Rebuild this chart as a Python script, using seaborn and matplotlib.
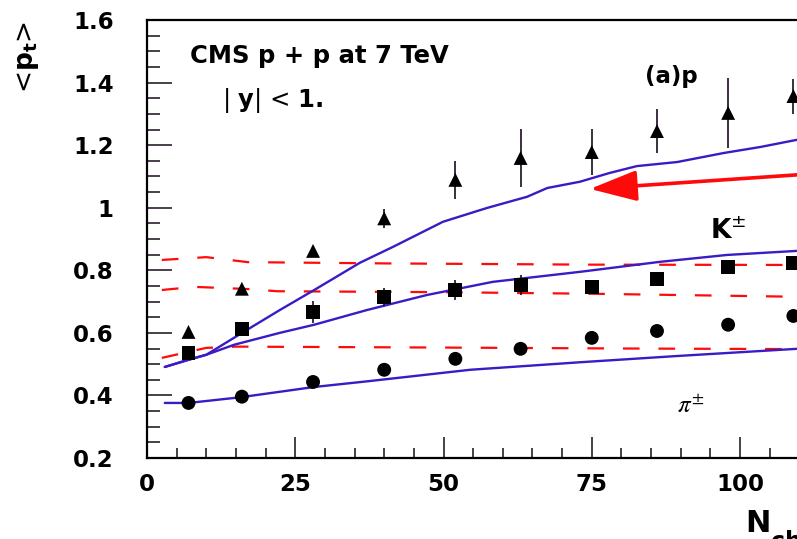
import numpy as np
import pandas as pd
import matplotlib
matplotlib.use("Agg")
import matplotlib.pyplot as plt
import seaborn as sns
from matplotlib.ticker import MultipleLocator

# ---- measured mean transverse momentum vs charged multiplicity ----
nch = [7, 16, 28, 40, 52, 63, 75, 86, 98, 109]
pt_proton = [0.603, 0.741, 0.862, 0.966, 1.089, 1.159, 1.178, 1.245, 1.303, 1.357]
err_proton = [0.0, 0.0, 0.0, 0.03, 0.06, 0.093, 0.073, 0.07, 0.112, 0.056]
pt_kaon = [0.536, 0.613, 0.667, 0.715, 0.737, 0.753, 0.747, 0.772, 0.811, 0.824]
err_kaon = [0.0, 0.0, 0.034, 0.029, 0.032, 0.032, 0.0, 0.0, 0.0, 0.0]
pt_pion = [0.376, 0.396, 0.443, 0.482, 0.517, 0.549, 0.584, 0.606, 0.626, 0.654]

# ---- model curves (solid) ----
model_p_x = [3, 7, 10, 16.9, 22.4, 28.2, 35.9, 41.5, 49.9, 57.3, 64.1, 67.5, 73, 78, 82.6, 89.4, 97.3, 103.4, 109.6, 111]
model_p_y = [0.491, 0.514, 0.53, 0.61, 0.673, 0.737, 0.824, 0.875, 0.955, 0.999, 1.035, 1.063, 1.083, 1.111, 1.133, 1.146, 1.175, 1.194, 1.217, 1.222]
model_k_x = [3, 7, 10, 14.7, 22.4, 28.2, 37.1, 47.2, 58.3, 73, 86.5, 97.8, 109.6, 111]
model_k_y = [0.491, 0.514, 0.53, 0.562, 0.6, 0.626, 0.673, 0.721, 0.763, 0.795, 0.827, 0.849, 0.862, 0.864]
model_pi_x = [3, 7, 15.7, 28.2, 37.1, 54.5, 73, 89.4, 109.6, 111]
model_pi_y = [0.376, 0.376, 0.394, 0.427, 0.445, 0.482, 0.506, 0.526, 0.549, 0.551]

# ---- alternative model curves (dashed) ----
alt_1_x = [2.5, 10, 17, 40, 75, 111]
alt_1_y = [0.833, 0.842, 0.826, 0.822, 0.818, 0.817]
alt_2_x = [2.5, 8, 17, 22, 50, 75, 111]
alt_2_y = [0.737, 0.747, 0.74, 0.733, 0.73, 0.725, 0.715]
alt_3_x = [2.5, 10, 15, 50, 80, 111]
alt_3_y = [0.52, 0.552, 0.556, 0.553, 0.55, 0.548]

y_ticks = [0.2, 0.4, 0.6, 0.8, 1.0, 1.2, 1.4, 1.6]
y_tick_labels = ["0.2", "0.4", "0.6", "0.8", "1", "1.2", "1.4", "1.6"]
x_ticks = [0, 25, 50, 75, 100]
x_tick_labels = ["0", "25", "50", "75", "100"]

BLUE = "#3a1bc4"
RED = "#ff0a0a"
INK = "#1a0a1e"

sns.set_theme(style="white")
plt.rcParams["font.family"] = ["DejaVu Sans"]
plt.rcParams["mathtext.fontset"] = "dejavusans"
plt.rcParams["text.color"] = "black"

fig = plt.figure(figsize=(7.97, 5.39), dpi=100)
W, H = 797, 539
# the frame runs past the right edge of the canvas
ax = fig.add_axes([147 / W, (H - 458) / H, 711.6 / W, 438 / H])
ax.set_xlim(0, 120)
ax.set_ylim(0.2, 1.6)

# dashed curves
for xs, ys in [(alt_1_x, alt_1_y), (alt_2_x, alt_2_y), (alt_3_x, alt_3_y)]:
    sns.lineplot(x=xs, y=ys, ax=ax, color=RED, lw=1.6, sort=False,
                 estimator=None, linestyle=(0, (7.5, 8.5)), zorder=2)

# solid model curves
for xs, ys in [(model_p_x, model_p_y), (model_k_x, model_k_y), (model_pi_x, model_pi_y)]:
    sns.lineplot(x=xs, y=ys, ax=ax, color=BLUE, lw=1.7, sort=False,
                 estimator=None, zorder=3)

# error bars
ax.errorbar(nch, pt_proton, yerr=err_proton, fmt="none", ecolor=INK, elinewidth=1.2, zorder=4)
ax.errorbar(nch, pt_kaon, yerr=err_kaon, fmt="none", ecolor=INK, elinewidth=1.2, zorder=4)

# data points
df = pd.DataFrame({
    "nch": nch * 3,
    "pt": pt_proton + pt_kaon + pt_pion,
    "species": ["p"] * len(nch) + ["K"] * len(nch) + ["pi"] * len(nch),
})
sns.scatterplot(data=df, x="nch", y="pt", style="species",
                markers={"p": "^", "K": "s", "pi": "o"},
                color="black", s=100, linewidth=0, legend=False, ax=ax, zorder=5)

# arrow
ax.annotate("", xy=(74.7, 1.06), xytext=(115, 1.112),
            arrowprops=dict(arrowstyle="-|>,head_length=2.9,head_width=0.95",
                            color=RED, lw=2.6, mutation_scale=10,
                            shrinkA=0, shrinkB=0), zorder=6)

# axes styling
for side in ["left", "bottom", "top"]:
    ax.spines[side].set_color("black")
    ax.spines[side].set_linewidth(1.6)
ax.spines["right"].set_visible(False)
ax.set_xticks(x_ticks)
ax.set_xticklabels(x_tick_labels)
ax.set_yticks(y_ticks)
ax.set_yticklabels(y_tick_labels)
ax.xaxis.set_minor_locator(MultipleLocator(5))
ax.yaxis.set_minor_locator(MultipleLocator(0.05))
ax.tick_params(axis="both", which="both", direction="in", color=INK, width=1.1,
               left=True, bottom=True, top=False, right=False)
ax.tick_params(axis="y", which="major", length=18, pad=24)
ax.tick_params(axis="y", which="minor", length=9.5)
ax.tick_params(axis="x", which="major", length=15, pad=11)
ax.tick_params(axis="x", which="minor", length=7.5)
for lab in ax.get_xticklabels() + ax.get_yticklabels():
    lab.set_fontweight("bold")
    lab.set_fontsize(16.5)
    lab.set_color("black")
ax.set_xlabel("")
ax.set_ylabel("")

# annotations
ax.text(7.25, 1.463, "CMS p + p at 7 TeV", fontsize=17.5, fontweight="bold",
        ha="left", va="baseline")
ax.text(12.6, 1.322, r"| $\mathbf{y}$| < $\mathbf{1.}$", fontsize=17.5,
        ha="left", va="baseline")
ax.text(84.0, 1.399, "(a)p", fontsize=16.5, fontweight="bold", ha="left", va="baseline")
ax.text(94.9, 0.90, r"$\mathbf{K}^{\pm}$", fontsize=19, ha="left", va="baseline")
ax.text(89.4, 0.344, r"$\pi^{\pm}$", fontsize=18, ha="left", va="baseline",
        math_fontfamily="stix")

fig.text(28 / W, 1 - 21 / H, r"<$\mathbf{p}_{\mathbf{t}}$>", rotation=90,
         fontsize=19, ha="center", va="top")
fig.text(745 / W, (H - 532) / H, "N", fontsize=22, fontweight="bold",
         ha="left", va="baseline")
fig.text(771 / W, (H - 530) / H, "ch", fontsize=17, fontweight="bold",
         ha="left", va="top")

fig.savefig("out.png", dpi=100)
